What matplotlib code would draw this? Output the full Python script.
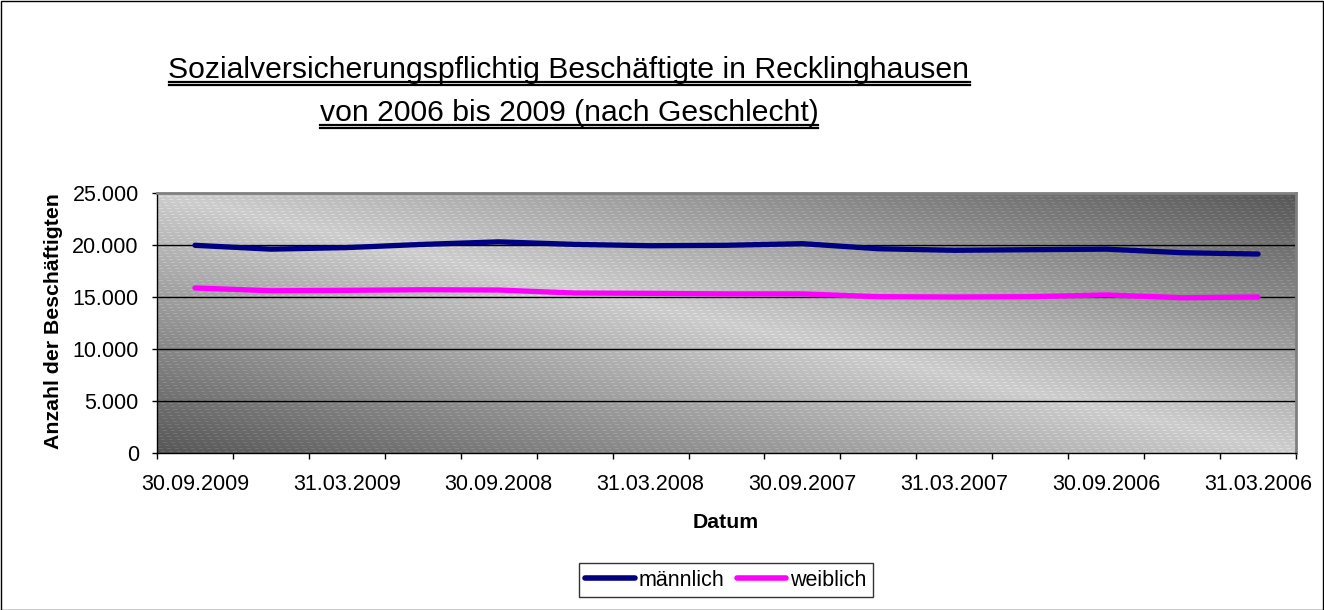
import matplotlib
matplotlib.use("Agg")
import matplotlib.pyplot as plt
import numpy as np
from matplotlib.patches import Rectangle
from matplotlib.lines import Line2D
from matplotlib.ticker import FuncFormatter, FixedLocator

# ---- data ----
dates = ["30.09.2009", "30.06.2009", "31.03.2009", "31.12.2008", "30.09.2008",
         "30.06.2008", "31.03.2008", "31.12.2007", "30.09.2007", "30.06.2007",
         "31.03.2007", "31.12.2006", "30.09.2006", "30.06.2006", "31.03.2006"]
maennlich = [19970, 19600, 19750, 20060, 20300, 20060, 19930, 19970, 20130,
             19640, 19490, 19550, 19600, 19260, 19130]
weiblich = [15870, 15600, 15640, 15700, 15670, 15380, 15350, 15300, 15300,
            15030, 15000, 15030, 15200, 14930, 15000]
series_names = ["männlich", "weiblich"]
title_lines = ["Sozialversicherungspflichtig Beschäftigte in Recklinghausen",
               "von 2006 bis 2009 (nach Geschlecht)"]
y_ticks = [0, 5000, 10000, 15000, 20000, 25000]

plt.rcParams['font.family'] = ['Liberation Sans', 'DejaVu Sans']

W, H = 1324, 610
fig = plt.figure(figsize=(W / 100, H / 100), dpi=100)

# plot area in pixels
L, R, T, B = 157, 1296, 193, 453
ax = fig.add_axes([L / W, 1 - B / H, (R - L) / W, (B - T) / H])

n = len(dates)
x = np.arange(n)

# gradient background with fine texture
pw, ph = R - L, B - T
uu, vv = np.meshgrid(np.linspace(0, 1, pw), np.linspace(1, 0, ph))
t = np.abs(uu + vv - 1.0)
light, dark = 0.80, 0.34
base = light - (light - dark) * t
px, py = np.meshgrid(np.arange(pw), np.arange(ph))
pattern = (((px + 2 * py) % 8) < 4) & ((py % 3) == 0)
img = np.clip(base + 0.07 * pattern, 0, 1)
ax.imshow(img, cmap='gray', vmin=0, vmax=1, extent=(-0.5, n - 0.5, 0, 25000),
          aspect='auto', interpolation='nearest', zorder=0)

ax.set_xlim(-0.5, n - 0.5)
ax.set_ylim(0, 25000)

# gridlines
for yv in y_ticks[1:-1]:
    ax.axhline(yv, color='black', lw=1.0, zorder=1)

ax.plot(x, maennlich, color='#000080', lw=3.8, solid_capstyle='round',
        solid_joinstyle='round', zorder=3, label=series_names[0])
ax.plot(x, weiblich, color='#FF00FF', lw=3.8, solid_capstyle='round',
        solid_joinstyle='round', zorder=3, label=series_names[1])

# ticks
ax.set_yticks(y_ticks)
ax.yaxis.set_major_formatter(FuncFormatter(lambda v, p: f"{int(v):,}".replace(",", ".")))
ax.tick_params(axis='y', direction='out', length=3.6, width=1, labelsize=15.5, pad=9.5)

ax.xaxis.set_major_locator(FixedLocator(x[::2]))
ax.set_xticklabels(dates[::2])
ax.xaxis.set_minor_locator(FixedLocator(np.arange(n + 1) - 0.5))
ax.tick_params(axis='x', which='major', length=0, labelsize=15.5, pad=15)
ax.tick_params(axis='x', which='minor', direction='out', length=4.3, width=1)

for s in ['top', 'right']:
    ax.spines[s].set_color('#808080')
    ax.spines[s].set_linewidth(2)
for s in ['left', 'bottom']:
    ax.spines[s].set_color('black')
    ax.spines[s].set_linewidth(1)

fig.text(54 / W, 1 - 321 / H, "Anzahl der Beschäftigten", rotation=90,
         fontsize=15.3, fontweight='bold', ha='center', va='center')
fig.text(726 / W, 1 - 522 / H, "Datum", fontsize=15.3, fontweight='bold',
         ha='center', va='center')

# title with double underline
title_baselines = [78, 121]
title_texts = []
for line, by in zip(title_lines, title_baselines):
    tt = fig.text(569 / W, 1 - by / H, line, fontsize=21.7, ha='center', va='baseline')
    title_texts.append(tt)

fig.canvas.draw()
renderer = fig.canvas.get_renderer()
for tt, by in zip(title_texts, title_baselines):
    bb = tt.get_window_extent(renderer)
    for off in (4.0, 7.0):
        yy = 1 - (by + off) / H
        fig.add_artist(Line2D([bb.x0 / W, bb.x1 / W], [yy, yy], color='black',
                              lw=1.6, transform=fig.transFigure))

leg = fig.legend(loc='center', bbox_to_anchor=(726 / W, 1 - 580 / H),
                 ncol=2, fontsize=15.5, frameon=True, fancybox=False,
                 handlelength=2.3, handletextpad=0.2, columnspacing=0.55,
                 borderpad=0.3, borderaxespad=0)
leg.get_frame().set_edgecolor('black')
leg.get_frame().set_linewidth(1)
for h in leg.get_lines():
    h.set_linewidth(4)

# outer border
fig.add_artist(Rectangle((0.5 / W, 0.5 / H), 1 - 1.5 / W, 1 - 1.5 / H,
                         fill=False, edgecolor='black', lw=1,
                         transform=fig.transFigure))

fig.savefig("out.png", dpi=100)
